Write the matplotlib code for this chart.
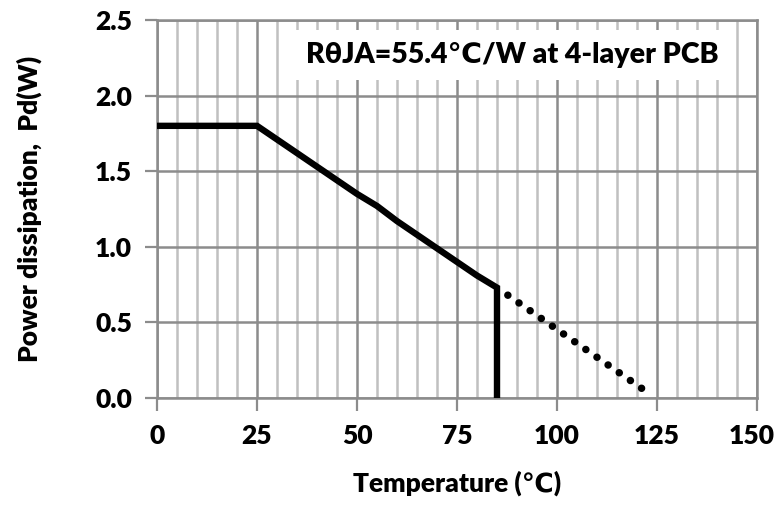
"""Power derating curve: allowable dissipation vs ambient temperature."""

import matplotlib

matplotlib.use("Agg")
import matplotlib.pyplot as plt
import matplotlib.transforms as mtransforms
from matplotlib.ticker import MultipleLocator

plt.rcParams["font.family"] = ["Lato", "DejaVu Sans"]
plt.rcParams["font.weight"] = "heavy"

# derating curve read at 5 degree steps, with the cutoff at 85 C
temp_c = [0, 25, 30, 35, 40, 45, 50, 55, 60, 65, 70, 75, 80, 85, 85]
pd_w = [1.80, 1.80, 1.71, 1.62, 1.53, 1.44, 1.35, 1.27, 1.17, 1.08, 0.99, 0.90, 0.81, 0.73, 0.0]

# extrapolated part beyond the cutoff (dotted)
ext_temp_c = [85, 123]
ext_pd_w = [0.73, 0.03]

x_ticks = [0, 25, 50, 75, 100, 125, 150]
y_ticks = [0.0, 0.5, 1.0, 1.5, 2.0, 2.5]

note = "R\u03b8JA=55.4\u2103/W at 4-layer PCB"

fig = plt.figure(figsize=(7.76, 5.05), dpi=100)
ax = fig.add_axes([157 / 776, 1 - 398 / 505, 600 / 776, 378 / 505])

ax.set_xlim(0, 150)
ax.set_ylim(0, 2.5)
ax.set_xticks(x_ticks)
ax.set_yticks(y_ticks)
ax.yaxis.set_major_formatter(plt.FuncFormatter(lambda v, _: f"{v:.1f}"))
ax.xaxis.set_minor_locator(MultipleLocator(5))

ax.grid(True, which="minor", axis="x", color="#c0c0c0", lw=1.8, zorder=0)
ax.grid(True, which="major", axis="x", color="#8c8c8c", lw=1.8, zorder=0)
ax.grid(True, which="major", axis="y", color="#8c8c8c", lw=1.8, zorder=0)
ax.tick_params(which="minor", length=0)
ax.tick_params(which="major", length=9, width=1.6, color="#8c8c8c",
               labelsize=19, pad=9)
ax.tick_params(axis="x", pad=10)
for label in ax.get_xticklabels() + ax.get_yticklabels():
    label.set_fontweight("heavy")
# nudge the rightmost x label in so it stays inside the figure
last = ax.get_xticklabels()[-1]
last.set_transform(last.get_transform()
                   + mtransforms.ScaledTranslation(-5 / 100, 0, fig.dpi_scale_trans))
for side in ax.spines:
    ax.spines[side].set_color("#8c8c8c")
    ax.spines[side].set_linewidth(1.8)

ax.plot(temp_c, pd_w, color="black", lw=4.6, solid_joinstyle="miter",
        solid_capstyle="butt", zorder=3)
ax.plot(ext_temp_c, ext_pd_w, color="black", lw=5.4,
        linestyle=(0.05, (0.01, 1.8)), dash_capstyle="round", zorder=3)

ax.text(0.593, 0.908, note, transform=ax.transAxes, ha="center", va="center",
        fontsize=20.5, fontweight="heavy", zorder=4,
        bbox=dict(boxstyle="square,pad=0.42", fc="white", ec="none"))

ax.set_xlabel("Temperature (\u2103)", fontsize=19, fontweight="heavy", labelpad=16)
ax.set_ylabel("Power dissipation,  Pd(W)", fontsize=19, fontweight="heavy",
              labelpad=38)

fig.savefig("out.png", dpi=100)
